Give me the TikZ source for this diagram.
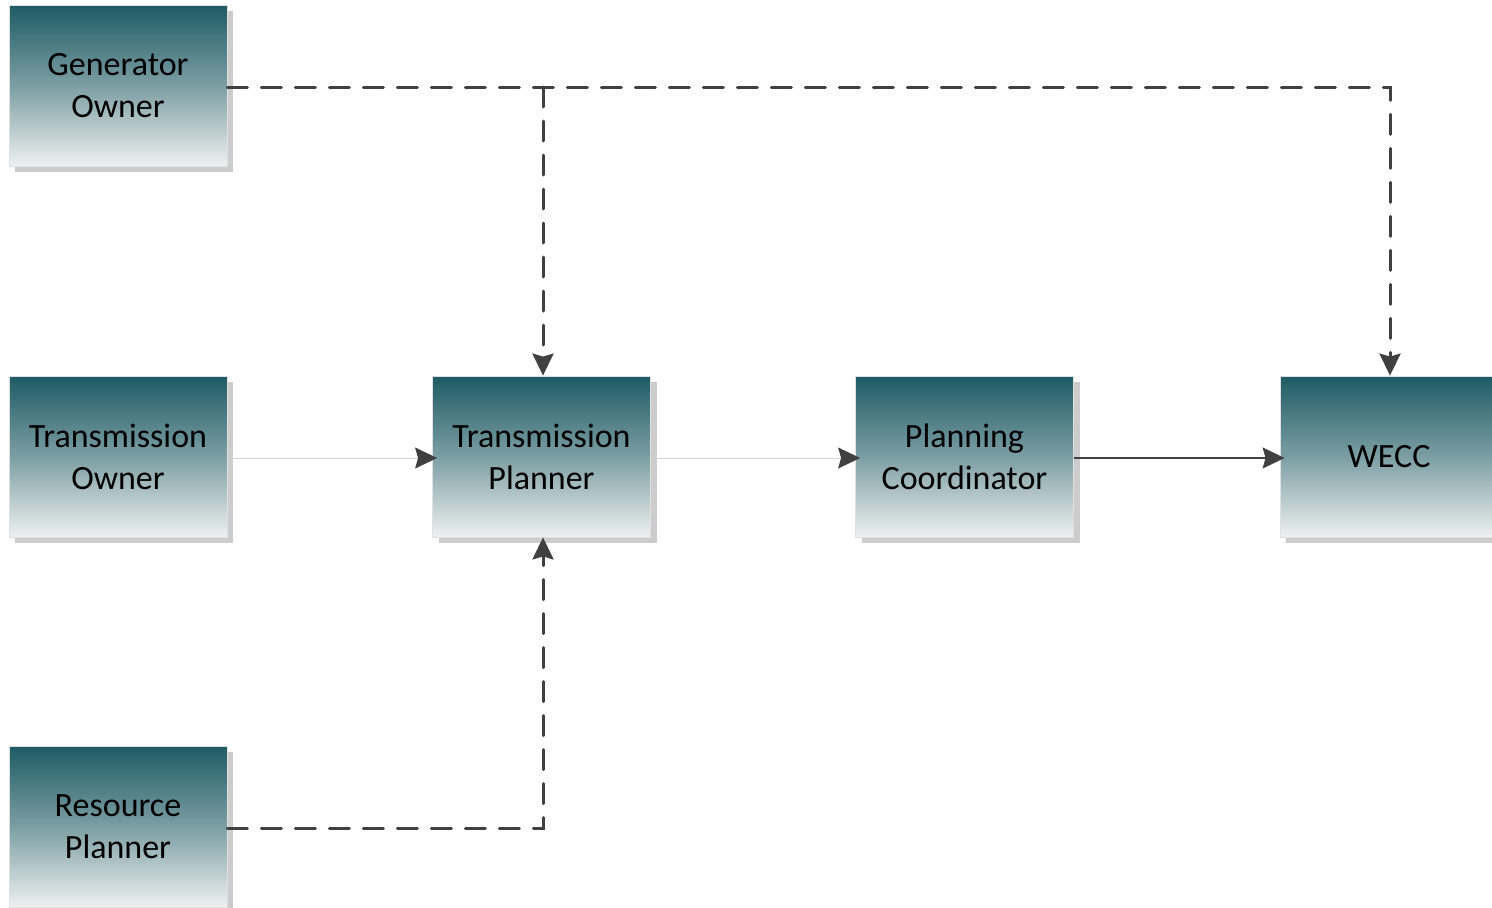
\documentclass[tikz,border=0pt]{standalone}
\usepackage{fontspec}
\setmainfont{Carlito}
\usetikzlibrary{arrows.meta,shadows,calc}
\definecolor{boxtop}{HTML}{1E5B64}
\definecolor{boxbot}{HTML}{EEF0F0}
\definecolor{linedark}{HTML}{404040}
\definecolor{linelight}{HTML}{D4D4D4}
\definecolor{shadowgray}{HTML}{CCCCCC}
\tikzset{
  rolebox/.style={rectangle, minimum width=218pt, minimum height=161pt, inner sep=0pt,
    top color=boxtop, bottom color=boxbot, middle color=boxtop!55!boxbot, draw=black!12, line width=0.8pt,
    drop shadow={shadow xshift=6pt, shadow yshift=-6pt, fill=shadowgray, opacity=1},
    align=center, font=\fontsize{34}{42}\selectfont, text=black},
  tip/.style={-{Stealth[length=22pt,width=21pt,inset=3pt,color=linedark]}},
  dashline/.style={draw=linedark, line width=3pt, dash pattern=on 20pt off 14pt, line cap=round},
  thinlight/.style={draw=linelight, line width=1pt},
  thindark/.style={draw=linedark, line width=1.4pt},
}
\begin{document}
\begin{tikzpicture}[x=1pt,y=-1pt]
\useasboundingbox (0,0) rectangle (1492,908);
\node[rolebox] (GO) at (118,85.5) {Generator\\Owner};
\node[rolebox] (TO) at (118,456.5) {Transmission\\Owner};
\node[rolebox] (RP) at (118,826.5) {Resource\\Planner};
\node[rolebox] (TP) at (541.5,456.5) {Transmission\\Planner};
\node[rolebox] (PC) at (964.5,456.5) {Planning\\Coordinator};
\node[rolebox] (WECC) at (1389,456.5) {WECC};
\coordinate (topy) at (227,87);
\coordinate (boty) at (227,828);
\coordinate (branch) at (543,87);
\draw[dashline,tip] (GO.east |- topy) -| ([xshift=1pt]WECC.north);
\draw[dashline,tip] (branch) -- (TP.north -| branch);
\draw[dashline,tip] (RP.east |- boty) -| (TP.south -| branch);
\draw[thinlight,tip] (TO.east |- 0,458) -- ([xshift=5pt]TP.west |- 0,458);
\draw[thinlight,tip] (TP.east |- 0,458) -- ([xshift=5pt]PC.west |- 0,458);
\draw[thindark,tip] (PC.east |- 0,458) -- ([xshift=5pt]WECC.west |- 0,458);
\end{tikzpicture}
\end{document}
